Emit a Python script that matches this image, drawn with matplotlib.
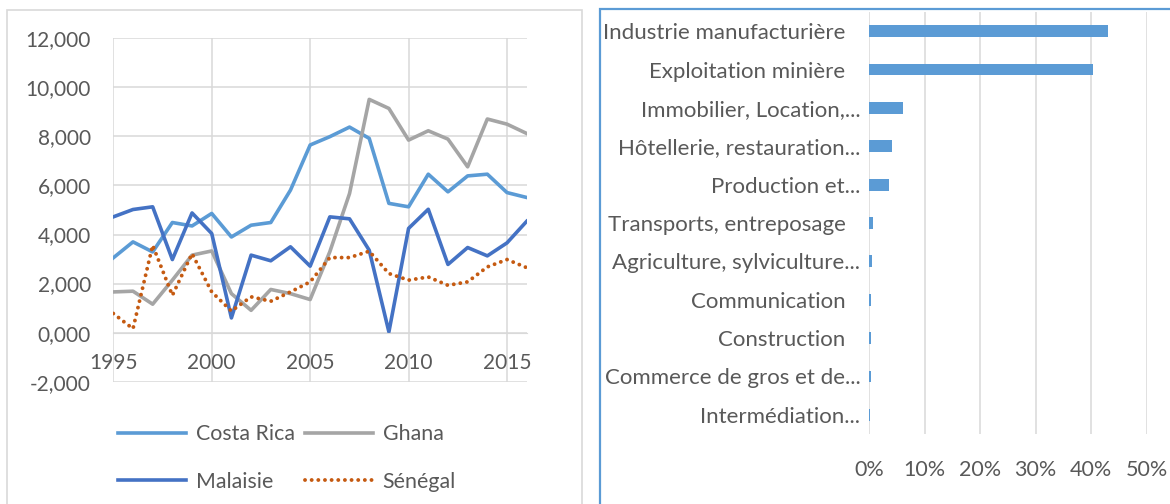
import matplotlib
matplotlib.use("Agg")
import matplotlib.pyplot as plt
import numpy as np
from matplotlib.patches import Rectangle
from matplotlib.transforms import ScaledTranslation

plt.rcParams['font.family'] = ['Lato', 'DejaVu Sans']

# left panel: FDI inflows (% of GDP)
years = list(range(1995, 2017))
costa_rica = [3.05, 3.70, 3.29, 4.49, 4.35, 4.86, 3.90, 4.38, 4.49, 5.81, 7.65, 7.99,
              8.38, 7.92, 5.27, 5.13, 6.46, 5.74, 6.39, 6.46, 5.71, 5.51]
ghana = [1.66, 1.69, 1.16, 2.14, 3.16, 3.33, 1.59, 0.91, 1.76, 1.59, 1.35, 3.30,
         5.67, 9.51, 9.14, 7.85, 8.23, 7.89, 6.76, 8.71, 8.50, 8.12]
malaisie = [4.72, 5.02, 5.13, 2.98, 4.88, 4.04, 0.60, 3.16, 2.93, 3.50, 2.71, 4.72,
            4.64, 3.36, 0.03, 4.25, 5.03, 2.78, 3.47, 3.13, 3.66, 4.54]
senegal = [0.78, 0.16, 3.56, 1.52, 3.22, 1.66, 0.88, 1.46, 1.28, 1.66, 2.07, 3.06,
           3.06, 3.32, 2.41, 2.14, 2.27, 1.93, 2.07, 2.68, 2.98, 2.65]
y_ticks = [-2, 0, 2, 4, 6, 8, 10, 12]
x_ticks = [1995, 2000, 2005, 2010, 2015]

# right panel: sector shares
sectors = ['Industrie manufacturière', 'Exploitation minière', 'Immobilier, Location,...',
           'Hôtellerie, restauration...', 'Production et...', 'Transports, entreposage',
           'Agriculture, sylviculture...', 'Communication', 'Construction',
           'Commerce de gros et de...', 'Intermédiation...']
shares = [0.431, 0.403, 0.061, 0.041, 0.036, 0.008, 0.005, 0.003, 0.003, 0.003, 0.001]
pct_ticks = [0, 0.1, 0.2, 0.3, 0.4, 0.5]

W, H = 1170, 504
fig = plt.figure(figsize=(W / 100, H / 100), dpi=100)
grid_c = '#D9D9D9'
text_c = '#595959'
fs = 15

# panel frames
fig.patches.append(Rectangle((7 / W, -0.1), 575 / W, 1.1 - 10 / H, transform=fig.transFigure,
                             fill=False, ec=grid_c, lw=1.2))
fig.patches.append(Rectangle((600 / W, -0.1), 0.6, 1.1 - 9 / H, transform=fig.transFigure,
                             fill=False, ec='#5B9BD5', lw=1.6))

ax = fig.add_axes([113.3 / W, 122.3 / H, 413.4 / W, 343.4 / H])
l1, = ax.plot(years, costa_rica, color='#5B9BD5', lw=2.6, label='Costa Rica')
l2, = ax.plot(years, ghana, color='#A5A5A5', lw=2.6, label='Ghana')
l3, = ax.plot(years, malaisie, color='#4472C4', lw=2.6, label='Malaisie')
l4, = ax.plot(years, senegal, color='#C55A11', lw=2.8, ls=(0, (0.01, 1.7)),
              dash_capstyle='round', label='Sénégal')
ax.set_xlim(1995, 2016)
ax.set_ylim(-2, 12)
ax.set_yticks(y_ticks)
ax.set_yticklabels(['{:.3f}'.format(v).replace('.', ',') for v in y_ticks])
ax.set_xticks(x_ticks)
ax.grid(True, color=grid_c, lw=1.1)
ax.set_axisbelow(True)
for s in ['top', 'right', 'left']:
    ax.spines[s].set_visible(False)
ax.spines['bottom'].set_position(('data', 0))
ax.spines['bottom'].set_color(grid_c)
ax.tick_params(axis='y', length=0, pad=16, labelsize=fs, labelcolor=text_c)
ax.tick_params(axis='x', length=0, pad=15, labelsize=fs, labelcolor=text_c)

fig.legend([l1, l3, l2, l4], ['Costa Rica', 'Malaisie', 'Ghana', 'Sénégal'],
           ncol=2, loc='upper left', bbox_to_anchor=(118 / W, (H - 424) / H),
           frameon=False, fontsize=15.4, labelcolor=text_c, handlelength=3.2,
           handletextpad=0.45, columnspacing=0.45, labelspacing=1.3,
           borderpad=0, borderaxespad=0)

ax2 = fig.add_axes([869 / W, 70 / H, 277.5 / W, 422 / H])
ypos = np.arange(len(sectors))
ax2.barh(ypos, shares, height=0.31, color='#5B9BD5')
ax2.set_ylim(len(sectors) - 0.5, -0.5)
ax2.set_xlim(0, 0.5)
ax2.set_yticks(ypos)
ax2.set_yticklabels(sectors)
ax2.set_xticks(pct_ticks)
ax2.set_xticklabels(['{:.0f}%'.format(v * 100) for v in pct_ticks])
ax2.grid(True, axis='x', color=grid_c, lw=1.1)
ax2.set_axisbelow(True)
for s in ax2.spines.values():
    s.set_visible(False)
ax2.tick_params(axis='y', length=0, pad=17, labelsize=16, labelcolor=text_c)
ax2.tick_params(axis='x', length=0, pad=19, labelsize=15.5, labelcolor=text_c)
for lab in ax2.get_yticklabels():
    if lab.get_text().endswith('...'):
        lab.set_transform(lab.get_transform() + ScaledTranslation(15 / 100, 0, fig.dpi_scale_trans))

fig.savefig('out.png', dpi=100)
